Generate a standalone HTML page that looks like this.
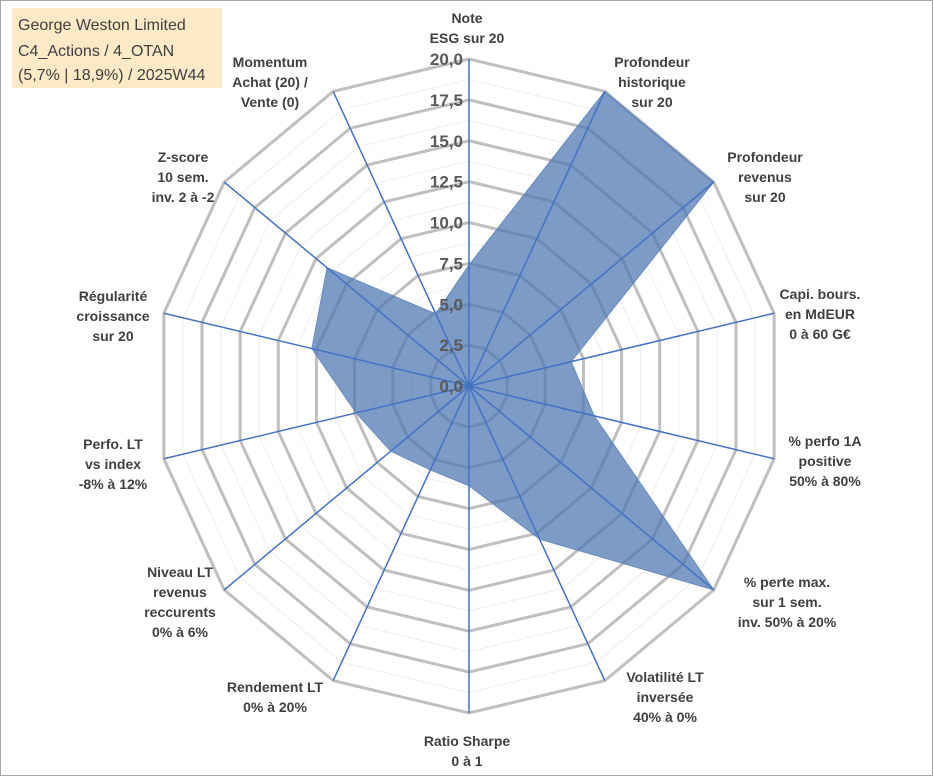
<!DOCTYPE html>
<html><head><meta charset="utf-8"><style>
body{margin:0;background:#fff;}
#wrap{position:relative;width:933px;height:776px;overflow:hidden;font-family:"Liberation Sans",sans-serif;}
svg{position:absolute;left:0;top:0;}
</style></head><body>
<div id="wrap">
<svg id="chart" width="933" height="776">
<rect x="0.5" y="0.5" width="932" height="775" fill="#fff" stroke="#a6a6a6"/>
<rect x="12" y="8" width="210" height="80" fill="#fce9c5"/>
<text x="18" y="30" font-size="16" fill="#404040">George Weston Limited</text>
<text x="18" y="56" font-size="16" fill="#404040">C4_Actions / 4_OTAN</text>
<text x="18" y="80" font-size="16" fill="#404040">(5,7% | 18,9%) / 2025W44</text>
<g id="grid"></g><g id="series"></g><g id="spokes"></g><g id="ticks"></g><g id="labels"></g>
</svg>
</div>
<script>
const categories=[["Note","ESG sur 20"],["Profondeur","historique","sur 20"],["Profondeur","revenus","sur 20"],["Capi. bours.","en MdEUR","0 à 60 G€"],["% perfo 1A","positive","50% à 80%"],["% perte max.","sur 1 sem.","inv. 50% à 20%"],["Volatilité LT","inversée","40% à 0%"],["Ratio Sharpe","0 à 1"],["Rendement LT","0% à 20%"],["Niveau LT","revenus","reccurents","0% à 6%"],["Perfo. LT","vs index","-8% à 12%"],["Régularité","croissance","sur 20"],["Z-score","10 sem.","inv. 2 à -2"],["Momentum","Achat (20) /","Vente (0)"]];
const values=[7.4,20,20,6.7,8.2,20,10.4,6.1,5.7,6.4,7.4,10.3,11.6,4.9];
const tickLabels=["0,0","2,5","5,0","7,5","10,0","12,5","15,0","17,5","20,0"];
const labelPos=[[467,9],[652,53],[765,148],[820,285],[825,432],[787,573],[665,668],[467,732],[275,678],[180,563],[113,435],[113,287],[183,148],[270,53]];
const cx=469,cy=386,Rx=313,Ry=327,maxV=20,N=categories.length;
const NS="http://www.w3.org/2000/svg";
function ang(i){return i*2*Math.PI/N;}
function pt(i,v){const f=v/maxV;return [cx+f*Rx*Math.sin(ang(i)),cy-f*Ry*Math.cos(ang(i))];}
function mk(tag,attrs,parent){const e=document.createElementNS(NS,tag);for(const k in attrs)e.setAttribute(k,attrs[k]);parent.appendChild(e);return e;}
const grid=document.getElementById('grid');
for(let k=1;k<=16;k++){const v=k*1.25;const major=k%2===0;
 const p=categories.map((c,i)=>pt(i,v).join(',')).join(' ');
 const e=mk('polygon',{points:p,fill:'none',stroke:major?'#bfbfbf':'#ececec','stroke-width':major?3:1},grid);
 
 }
const ser=document.getElementById('series');
const sp=mk('polygon',{points:values.map((v,i)=>pt(i,v).join(',')).join(' '),fill:'rgba(78,120,178,0.74)',stroke:'#6a8cbc','stroke-width':1},ser);


const spokes=document.getElementById('spokes');
categories.forEach((c,i)=>{const [x,y]=pt(i,maxV);
 const l=mk('line',{x1:cx,y1:cy,x2:x,y2:y,stroke:'#4472c4','stroke-width':1.5},spokes);
 
 });
const ticks=document.getElementById('ticks');
tickLabels.forEach((t,k)=>{const y=cy-k*2.5/maxV*Ry;
 const e=mk('text',{x:cx-6,y:y+6,'text-anchor':'end','font-size':17,'font-weight':'bold',fill:'#595959'},ticks);
 e.textContent=t;
 
 });
const labels=document.getElementById('labels');
categories.forEach((lines,i)=>{const [x,y]=labelPos[i];
 const t=mk('text',{x:x,y:y+14,'text-anchor':'middle','font-size':14,'font-weight':'bold',fill:'#404040'},labels);
 
 
 lines.forEach((s,j)=>{const ts=mk('tspan',{x:x,dy:j?20:0},t);ts.textContent=s;});});
</script>
</body></html>
